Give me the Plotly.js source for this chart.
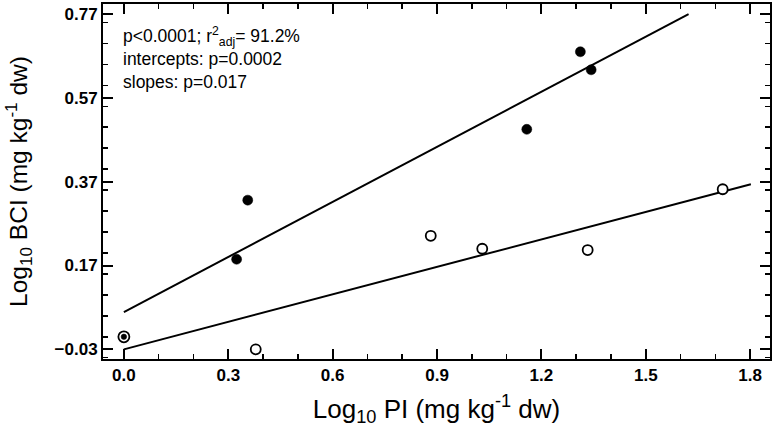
<!DOCTYPE html>
<html>
<head>
<meta charset="utf-8">
<script src="https://cdn.plot.ly/plotly-3.0.1.min.js"></script>
<style>html,body{margin:0;padding:0;background:#fff;}#chart{width:774px;height:437px;}</style>
</head>
<body>
<div id="chart"></div>
<script>
// Filled circles (group 1)
const filledX = [0.0, 0.324, 0.356, 1.158, 1.312, 1.343];
const filledY = [0.0, 0.185, 0.326, 0.495, 0.680, 0.637];
// Open circles (group 2)
const openX = [0.0, 0.379, 0.882, 1.030, 1.333, 1.721];
const openY = [0.0, -0.030, 0.241, 0.210, 0.207, 0.352];
// Fitted regression lines (end points)
const fitFilledX = [0.0, 1.623];
const fitFilledY = [0.059, 0.770];
const fitOpenX = [0.0, 1.802];
const fitOpenY = [-0.030, 0.364];
// Annotation lines
const statLines = [
  'p<0.0001; r<sup>2</sup><sub>adj</sub>= 91.2%',
  'intercepts: p=0.0002',
  'slopes: p=0.017'
];

const font = 'Liberation Sans, Arial, sans-serif';

const traces = [
  {x: fitFilledX, y: fitFilledY, mode: 'lines', line: {color: '#000', width: 2}, hoverinfo: 'skip'},
  {x: fitOpenX, y: fitOpenY, mode: 'lines', line: {color: '#000', width: 2}, hoverinfo: 'skip'},
  {x: openX, y: openY, mode: 'markers',
   marker: {symbol: 'circle', opacity: 1, size: openX.map((v, i) => i === 0 ? 11 : 10), color: '#fff', line: {color: '#000', width: 1.8}}},
  {x: filledX, y: filledY, mode: 'markers',
   marker: {symbol: 'circle', opacity: 1, size: filledX.map((v, i) => i === 0 ? 5.5 : 10), color: '#000', line: {color: '#000', width: 0.5}}}
];

const axisCommon = {
  showgrid: false, zeroline: false, showline: true, linecolor: '#000', linewidth: 2,
  mirror: 'ticks', ticks: 'inside', ticklen: 10, tickwidth: 2, tickcolor: '#000',
  tickfont: {family: font, size: 17, color: '#000', weight: 'bold'}
};

const layout = {
  width: 774, height: 437,
  margin: {l: 103, r: 4, t: 4, b: 78},
  paper_bgcolor: '#fff', plot_bgcolor: '#fff',
  showlegend: false,
  xaxis: Object.assign({}, axisCommon, {
    range: [-0.06, 1.857], tick0: 0, dtick: 0.3, tickformat: '.1f',
    minor: {dtick: 0.1, ticks: 'inside', ticklen: 5, tickwidth: 1.5, tickcolor: '#000'},
    title: {text: 'Log<sub>10</sub> PI (mg kg<sup>-1</sup> dw)', font: {family: font, size: 26, color: '#000'}, standoff: 15}
  }),
  yaxis: Object.assign({}, axisCommon, {
    range: [-0.053, 0.794], tick0: -0.03, dtick: 0.2, tickformat: '.2f',
    minor: {dtick: 0.05, ticks: 'inside', ticklen: 5, tickwidth: 1.5, tickcolor: '#000'},
    title: {text: 'Log<sub>10</sub> BCI (mg kg<sup>-1</sup> dw)', font: {family: font, size: 24.5, color: '#000'}, standoff: 20}
  }),
  annotations: [{
    xref: 'paper', yref: 'paper', x: 0.027, y: 0.848,
    xanchor: 'left', yanchor: 'middle', align: 'left', showarrow: false,
    text: statLines.join('<br>'),
    font: {family: font, size: 17.5, color: '#000'}
  }]
};

Plotly.newPlot('chart', traces, layout, {staticPlot: true, displayModeBar: false});
</script>
</body>
</html>
